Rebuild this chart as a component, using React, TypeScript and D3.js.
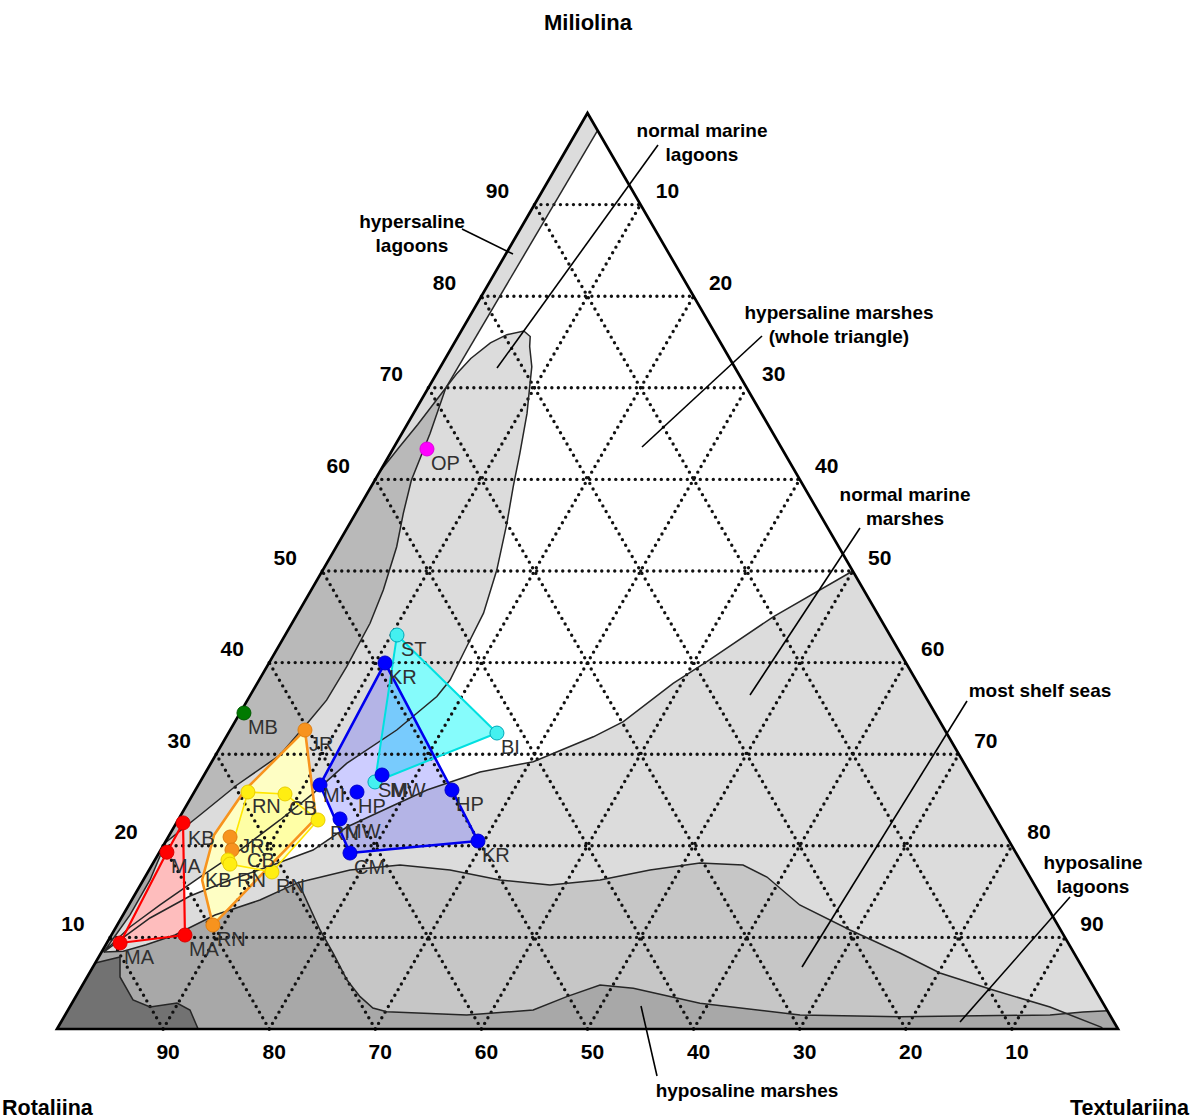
import React from 'react';
import * as d3 from 'd3';

// Ternary coordinates: [Miliolina %, Textulariina %]  (Rotaliina = 100 - M - T)
type TP = [number, number];

// ---------- Murray fields (region boundaries) ----------
const stripInner: TP[] = [[98, 1.9], [70, 1.65]];
const wedgeTop: TP[] = [[70, 1.65], [66, 1.0], [63.5, 0.5], [60.8, 0]];
const tongueLeftUpper: TP[] = [
  [70, 1.65], [65, 2.66], [59.9, 3.45], [56.3, 4.49], [52.65, 5.69], [47.93, 6.79],
  [44.29, 7.36], [39.55, 7.53], [35.9, 7.46], [33.7, 6.98], [29.91, 6.06], [26.64, 3.64],
  [23.36, 1.8], [20.4, 0.07],
];
const tongueLeftLower: TP[] = [[20.4, 0.07], [16.27, 0.63], [12.45, 0.66], [8.4, 0.2]];
const tongueRight: TP[] = [
  [70, 1.65], [71.5, 1.9], [73.2, 2.4], [74.9, 3.4], [75.8, 4.5], [76.2, 5.9], [75.6, 6.8],
  [74.5, 7.3], [72.3, 8.6], [70.1, 9.5], [67.2, 10.7], [62.85, 12.2], [59.2, 13.4],
  [55.2, 14.8], [50.1, 16.4], [45.4, 17.5], [41.7, 17.75], [38.1, 18.0], [36.3, 17.65],
  [32.64, 15.7], [29.0, 12.8], [25.73, 11.29], [22.82, 9.61], [19.54, 7.48], [16.59, 5.18],
  [13.54, 2.94], [11.14, 1.31], [8.4, 0.2],
];
const shelfCurve: TP[] = [
  [50, 50], [45, 45], [40.1, 41.2], [37.74, 39.2], [33.55, 36.6], [31.9, 34.6], [29.18, 30.3],
  [28.06, 25.84], [26.09, 21.82], [24.24, 19.27], [22.05, 16.3], [19.54, 14.36], [17.79, 11.18],
  [16.27, 8.18], [14.52, 5.28], [12.12, 2.71], [9.72, 1.08], [8.4, 0.2],
];
const bandCurve: TP[] = [
  [16.0, 14.75], [17.36, 18.94], [17.9, 23.38], [17.36, 28.36], [16.27, 33.62], [15.72, 38.61],
  [16.27, 43.05], [17.36, 47.21], [18.12, 51.54], [17.9, 55.71], [16.59, 58.62], [13.54, 63.23],
  [10.81, 69.34], [8.3, 75.3], [6.11, 80.16], [4.26, 86.09], [2.4, 92.39], [0.2, 98.3], [0, 98.6],
];
const darkCurve: TP[] = [
  [8.4, 0.2], [8.5, 2.0], [9.2, 3.8], [10.26, 5.99], [12.45, 8.67], [14.08, 12.09], [16.0, 14.75],
  [13.2, 17.25], [10.81, 19.39], [8.26, 21.91], [5.35, 24.66], [3.53, 26.8], [2.29, 28.63],
  [1.89, 30.13], [1.53, 37.85], [2.07, 43.85], [3.53, 46.28], [4.8, 48.78], [4.44, 52.1],
  [2.8, 59.2], [1.53, 69.27], [1.34, 78.78], [1.53, 92.83], [1.86, 95.77], [2.0, 98.0],
];
const darkestCurve: TP[] = [
  [7.2, 0], [7.86, 2.01], [5.68, 3.1], [3.17, 5.58], [2.4, 7.57], [2.84, 9.89], [2.07, 11.5], [0, 13.3],
];

// ---------- samples ----------
type Sample = { label: string; m: number; t: number };
const redPoints: Sample[] = [
  { label: 'KB', m: 22.5, t: 0.63 }, { label: 'MA', m: 19.3, t: 0.71 },
  { label: 'MA', m: 9.39, t: 1.25 }, { label: 'MA', m: 10.26, t: 6.93 },
];
const orangePoints: Sample[] = [
  { label: 'JR', m: 32.64, t: 7.05 }, { label: 'JR', m: 20.96, t: 5.83 },
  { label: 'CB', m: 19.54, t: 6.72 }, { label: 'RN', m: 11.35, t: 9.02 },
];
const orangeOutline: TP[] = [[32.64, 7.05], [23.03, 12.89], [11.35, 9.02], [16.27, 5.54], [21.18, 4.21], [26.09, 4.67]];
const yellowPoints: Sample[] = [
  { label: 'RN', m: 25.87, t: 5.06 }, { label: 'CB', m: 25.66, t: 8.66 },
  { label: 'RN', m: 22.82, t: 13.19 }, { label: 'RN', m: 17.14, t: 11.69 },
  { label: 'KB', m: 18.45, t: 6.89 }, { label: 'RN', m: 18.0, t: 7.3 },
];
const bluePoints: Sample[] = [
  { label: 'KR', m: 39.96, t: 10.93 }, { label: 'MI', m: 26.64, t: 11.47 },
  { label: 'HP', m: 25.87, t: 15.34 }, { label: 'MW', m: 27.73, t: 16.77 },
  { label: 'HP', m: 26.09, t: 24.18 }, { label: 'KR', m: 20.52, t: 29.42 },
  { label: 'CM', m: 19.21, t: 18.01 }, { label: 'MW', m: 22.93, t: 15.21 },
];
const cyanPoints: Sample[] = [
  { label: 'ST', m: 43.01, t: 10.54 }, { label: 'BI', m: 32.31, t: 25.31 }, { label: 'SM', m: 26.97, t: 16.48 },
];
const magentaPoints: Sample[] = [{ label: 'OP', m: 63.32, t: 3.21 }];
const greenPoints: Sample[] = [{ label: 'MB', m: 34.5, t: 0.37 }];

const gridTicks = [10, 20, 30, 40, 50, 60, 70, 80, 90];
const vertexNames = ['Miliolina', 'Rotaliina', 'Textulariina'];

const annotations = [
  { lines: ['normal marine', 'lagoons'] },
  { lines: ['hypersaline', 'lagoons'] },
  { lines: ['hypersaline marshes', '(whole triangle)'] },
  { lines: ['normal marine', 'marshes'] },
  { lines: ['most shelf seas'] },
  { lines: ['hyposaline', 'lagoons'] },
  { lines: ['hyposaline marshes'] },
];
// layout (pixels) for annotation text and leaders
const annotationLayout = [
  { x: 702, y: 130, leader: [[658, 145], [497, 368]] },
  { x: 412, y: 221, leader: [[462, 229], [513, 254]] },
  { x: 839, y: 312, leader: [[762, 336], [642, 447]] },
  { x: 905, y: 494, leader: [[860, 528], [750, 695]] },
  { x: 1040, y: 690, leader: [[967, 701], [802, 967]] },
  { x: 1093, y: 862, leader: [[1070, 897], [960, 1022]] },
  { x: 747, y: 1090, leader: [[641, 1006], [657, 1076]] },
];

// ---------- scales ----------
const xS = d3.scaleLinear().domain([0, 100]).range([57, 1118]);
const yS = d3.scaleLinear().domain([0, 100]).range([1029, 113]);
const proj = (p: TP): [number, number] => [xS(p[1] + p[0] / 2), yS(p[0])];
const lineGen = d3.line<TP>().x((d) => proj(d)[0]).y((d) => proj(d)[1]);
const closed = (pts: TP[]) => (lineGen(pts) || '') + 'Z';

const C_LIGHT = '#dcdcdc';
const C_WEDGE = '#b9b9b9';
const C_BAND = '#c6c6c6';
const C_DARK = '#a8a8a8';
const C_DARKEST = '#727272';

const seriesStyle: Record<string, { fill: string; fillOpacity: number; stroke: string; sw: number; marker: string; mstroke: string }> = {
  red: { fill: '#ffbaba', fillOpacity: 0.95, stroke: '#ff0000', sw: 2.2, marker: '#ff0000', mstroke: '#dd0000' },
  orange: { fill: '#ffffc2', fillOpacity: 0.95, stroke: '#f7931e', sw: 2.6, marker: '#f7931e', mstroke: '#e07f10' },
  yellow: { fill: '#ffff80', fillOpacity: 0.45, stroke: '#ffe600', sw: 1.6, marker: '#ffee11', mstroke: '#e8cc00' },
  cyan: { fill: '#7ffcfc', fillOpacity: 0.95, stroke: '#00e0e0', sw: 2, marker: '#44f0f0', mstroke: '#00a8b8' },
  blue: { fill: '#5a5aff', fillOpacity: 0.3, stroke: '#0000ee', sw: 2.6, marker: '#0000ff', mstroke: '#0000cc' },
};

const labelNudge: Record<string, [number, number]> = {
  'orange-1': [10, 16],
  'orange-2': [15, 17],
  'yellow-2': [12, 20],
  'yellow-4': [-23, 27],
  'yellow-5': [7, 23],
  'blue-1': [3, 17],
  'blue-2': [1, 21],
  'blue-3': [8, 22],
  'blue-7': [5, 19],
  'cyan-2': [3, 15],
  'red-0': [5, 22],
};

export default function App() {
  const toPx = (s: Sample) => proj([s.m, s.t]);
  const hullPath = (pts: Sample[]) => {
    const h = d3.polygonHull(pts.map(toPx) as [number, number][]);
    return h ? 'M' + h.map((p) => p.join(',')).join('L') + 'Z' : '';
  };

  const stripPoly: TP[] = [[100, 0], ...stripInner, ...wedgeTop.slice(1)];
  const wedgePoly: TP[] = [...wedgeTop.slice().reverse(), ...tongueLeftUpper.slice(1)];
  const tonguePoly: TP[] = [...tongueRight, ...tongueLeftLower.slice().reverse().slice(1), ...tongueLeftUpper.slice().reverse().slice(1)];
  const marinePoly: TP[] = [...shelfCurve, [0, 0], [0, 100]];
  const bandPoly: TP[] = [...bandCurve, [0, 14.6]];
  const darkPoly: TP[] = [[0, 0], [20.4, 0], ...tongueLeftLower, ...darkCurve.slice(1), [0, 100]];
  const darkestPoly: TP[] = [[0, 0], ...darkestCurve];
  const triangle: TP[] = [[100, 0], [0, 0], [0, 100]];

  const gridLines: [TP, TP][] = [];
  gridTicks.forEach((k) => {
    gridLines.push([[k, 0], [k, 100 - k]]);
    gridLines.push([[0, k], [100 - k, k]]);
    gridLines.push([[0, 100 - k], [100 - k, 0]]);
  });

  const series: { key: string; pts: Sample[]; outline?: TP[] }[] = [
    { key: 'red', pts: redPoints },
    { key: 'orange', pts: orangePoints, outline: orangeOutline },
    { key: 'yellow', pts: yellowPoints },
    { key: 'cyan', pts: cyanPoints },
    { key: 'blue', pts: bluePoints },
  ];
  const singles = [
    { key: 'magenta', pts: magentaPoints, color: '#ff00ff', stroke: '#dd00dd' },
    { key: 'green', pts: greenPoints, color: '#007a00', stroke: '#005a00' },
  ];

  const allLabels: { x: number; y: number; text: string }[] = [];
  [...series, ...singles].forEach((s) => {
    s.pts.forEach((p, i) => {
      const [px, py] = toPx(p);
      const n = labelNudge[`${s.key}-${i}`] || [4, 21];
      allLabels.push({ x: px + n[0], y: py + n[1], text: p.label });
    });
  });

  return (
    <svg width={1192} height={1120} style={{ position: 'absolute', left: 0, top: 0, background: '#fff' }}
      fontFamily="'Liberation Sans', Arial, Helvetica, sans-serif">
      {/* fields */}
      <path d={closed(triangle)} fill="#ffffff" />
      <path d={closed(stripPoly)} fill={C_LIGHT} />
      <path d={closed(wedgePoly)} fill={C_WEDGE} />
      <path d={closed(tonguePoly)} fill={C_LIGHT} />
      <path d={closed(marinePoly)} fill={C_LIGHT} />
      <path d={closed(bandPoly)} fill={C_BAND} />
      <path d={closed(darkPoly)} fill={C_DARK} />
      <path d={closed(darkestPoly)} fill={C_DARKEST} />

      {/* sample polygon fills */}
      {series.map((s) => {
        const st = seriesStyle[s.key];
        const d = s.outline ? closed(s.outline) : hullPath(s.pts);
        return <path key={s.key + '-f'} d={d} fill={st.fill} fillOpacity={st.fillOpacity} />;
      })}

      {/* grid */}
      {gridLines.map((g, i) => (
        <path key={'g' + i} d={lineGen(g) || ''} stroke="#111" strokeWidth={3.4} strokeDasharray="0 6.5" strokeLinecap="round" fill="none" />
      ))}

      {/* field boundaries */}
      <g fill="none" stroke="#262626" strokeWidth={1.5}>
        <path d={lineGen(stripInner) || ''} />
        <path d={lineGen(wedgeTop) || ''} />
        <path d={closed(tonguePoly)} />
        <path d={lineGen(shelfCurve) || ''} />
        <path d={lineGen(bandCurve) || ''} />
        <path d={lineGen(darkCurve) || ''} />
        <path d={lineGen(darkestCurve) || ''} />
      </g>

      {/* triangle outline */}
      <path d={closed(triangle)} fill="none" stroke="#000" strokeWidth={2.7} strokeLinejoin="miter" />

      {/* annotation leaders */}
      {annotationLayout.map((a, i) => (
        <line key={'ld' + i} x1={a.leader[0][0]} y1={a.leader[0][1]} x2={a.leader[1][0]} y2={a.leader[1][1]} stroke="#000" strokeWidth={1.6} />
      ))}

      {/* sample outlines */}
      {series.map((s) => {
        const st = seriesStyle[s.key];
        const d = s.outline ? closed(s.outline) : hullPath(s.pts);
        return <path key={s.key + '-o'} d={d} fill="none" stroke={st.stroke} strokeWidth={st.sw} strokeLinejoin="round" />;
      })}

      {/* markers */}
      {series.map((s) => {
        const st = seriesStyle[s.key];
        return s.pts.map((p, i) => {
          const [x, y] = toPx(p);
          return <circle key={s.key + 'm' + i} cx={x} cy={y} r={7} fill={st.marker} stroke={st.mstroke} strokeWidth={1} />;
        });
      })}
      {singles.map((s) =>
        s.pts.map((p, i) => {
          const [x, y] = toPx(p);
          return <circle key={s.key + 'm' + i} cx={x} cy={y} r={7} fill={s.color} stroke={s.stroke} strokeWidth={1} />;
        })
      )}

      {/* point labels */}
      {allLabels.map((l, i) => (
        <text key={'lb' + i} x={l.x} y={l.y} fontSize={20} fill="#303030">{l.text}</text>
      ))}

      {/* annotation text */}
      {annotations.map((a, i) =>
        a.lines.map((ln, j) => (
          <text key={'an' + i + '-' + j} x={annotationLayout[i].x} y={annotationLayout[i].y + j * 24}
            textAnchor="middle" dominantBaseline="central" fontSize={19} fontWeight="bold" fill="#000">{ln}</text>
        ))
      )}

      {/* axis tick labels */}
      {gridTicks.map((k) => {
        const [lx, ly] = proj([k, 0]);
        const [rx, ry] = proj([100 - k, k]);
        const [bx, by] = proj([0, 100 - k]);
        return (
          <g key={'tk' + k} fontSize={21} fontWeight="bold" fill="#000" textAnchor="middle" dominantBaseline="central">
            <text x={lx - 37} y={ly - 14}>{k}</text>
            <text x={rx + 27} y={ry - 14}>{k}</text>
            <text x={bx + 5} y={by + 22}>{k}</text>
          </g>
        );
      })}

      {/* vertex titles */}
      <text x={588} y={22} textAnchor="middle" dominantBaseline="central" fontSize={22} fontWeight="bold">{vertexNames[0]}</text>
      <text x={2} y={1108} textAnchor="start" dominantBaseline="central" fontSize={21.5} fontWeight="bold">{vertexNames[1]}</text>
      <text x={1189} y={1108} textAnchor="end" dominantBaseline="central" fontSize={21.5} fontWeight="bold">{vertexNames[2]}</text>
    </svg>
  );
}
